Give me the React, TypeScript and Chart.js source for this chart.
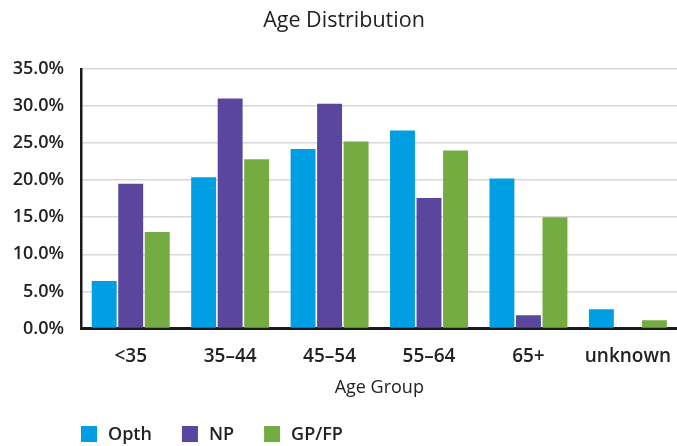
import { useEffect, useRef } from "react";
import { Chart, registerables } from "chart.js";

Chart.register(...registerables);

const categories = ["<35", "35–44", "45–54", "55–64", "65+", "unknown"];
const opthValues = [6.4, 20.4, 24.2, 26.7, 20.2, 2.6];
const npValues = [19.5, 31.0, 30.3, 17.6, 1.8, 0];
const gpfpValues = [13.0, 22.8, 25.2, 24.0, 15.0, 1.1];
const seriesNames = ["Opth", "NP", "GP/FP"];
const seriesColors = ["#009FE3", "#5A469C", "#75AC42"];

const FONT = "'Open Sans', 'Noto Sans', sans-serif";
const TEXT = "#222222";

const legendPlugin = {
  id: "customLegend",
  afterDraw(chart: any) {
    const ctx = chart.ctx;
    ctx.save();
    ctx.font = `600 18px ${FONT}`;
    ctx.textBaseline = "middle";
    ctx.textAlign = "left";
    let x = chart.chartArea.left;
    const y = 434;
    chart.data.datasets.forEach((ds: any) => {
      ctx.fillStyle = ds.backgroundColor;
      ctx.fillRect(x, y - 8, 16, 16);
      ctx.fillStyle = TEXT;
      ctx.fillText(ds.label, x + 27, y + 1);
      x += 27 + ctx.measureText(ds.label).width + 30;
    });
    ctx.restore();
  },
};

export default function App() {
  const ref = useRef<HTMLCanvasElement | null>(null);

  useEffect(() => {
    if (!ref.current) return;
    const values = [opthValues, npValues, gpfpValues];
    const chart = new Chart(ref.current, {
      type: "bar",
      data: {
        labels: categories,
        datasets: seriesNames.map((name, i) => ({
          label: name,
          data: values[i],
          backgroundColor: seriesColors[i],
          borderWidth: 0,
          barPercentage: 0.94,
          categoryPercentage: 0.8,
        })),
      },
      options: {
        responsive: false,
        animation: false,
        devicePixelRatio: 1,
        layout: { padding: { left: 0, right: 0, top: 0, bottom: 50 } },
        plugins: {
          legend: { display: false },
          tooltip: { enabled: false },
          title: {
            display: true,
            text: "Age Distribution",
            color: TEXT,
            font: { family: FONT, size: 21.5, weight: "normal" },
            padding: { top: 8, bottom: 35 },
          },
        },
        scales: {
          x: {
            grid: { display: false, drawTicks: false },
            border: { display: true, color: "#1a1a1a", width: 3 },
            ticks: {
              color: TEXT,
              padding: 17,
              font: { family: FONT, size: 19, weight: 600 },
              maxRotation: 0,
              autoSkip: false,
            },
            title: {
              display: true,
              text: "Age Group",
              color: TEXT,
              font: { family: FONT, size: 18, weight: "normal" },
              padding: { top: 9, bottom: -3 },
            },
            afterFit: (s: any) => {
              s.height = 67.5;
            },
          },
          y: {
            min: 0,
            max: 35,
            grid: { color: "#d8d8d8", lineWidth: 1.5, drawTicks: false },
            border: { display: true, color: "#1a1a1a", width: 2.5 },
            ticks: {
              stepSize: 5,
              color: TEXT,
              padding: 17,
              font: { family: FONT, size: 18, weight: 600 },
              callback: (v: any) => Number(v).toFixed(1) + "%",
            },
            afterFit: (s: any) => {
              s.width = 81;
            },
          },
        },
      },
      plugins: [legendPlugin],
    });
    return () => chart.destroy();
  }, []);

  return (
    <div
      style={{
        position: "absolute",
        left: 0,
        top: 0,
        width: 677,
        height: 446,
        overflow: "hidden",
        background: "#fff",
      }}
    >
      <canvas ref={ref} width={688} height={446} style={{ width: 688, height: 446, display: "block" }} />
    </div>
  );
}
